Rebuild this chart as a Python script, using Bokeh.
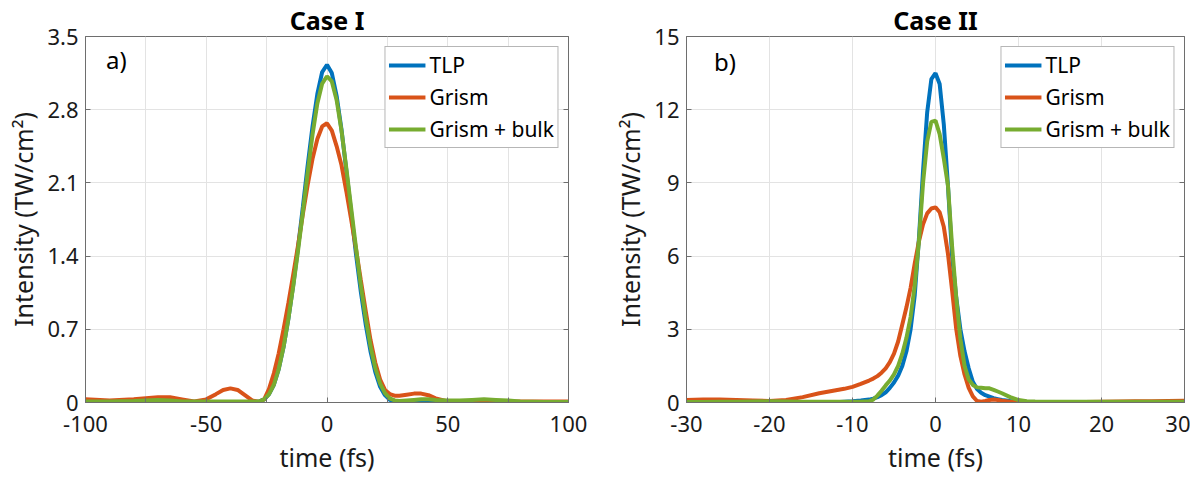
from bokeh.plotting import figure
from bokeh.layouts import row
from bokeh.models import Range1d, FixedTicker, LinearAxis, Label, Legend, LegendItem
from bokeh.embed import file_html
from bokeh.resources import INLINE

# ---------------- data: Case I ----------------
t1 = [-100, -90, -80, -75, -70, -65, -60, -55, -50, -46, -43, -40, -37, -34, -31, -28,
      -26, -24, -22, -20, -18, -16, -14, -12, -10, -8, -6, -4, -2, 0, 2, 4, 6, 8, 10,
      12, 14, 16, 18, 20, 22, 24, 26, 28, 30, 33, 36, 39, 42, 45, 50, 55, 60, 65, 70,
      75, 80, 90, 100]
tlp1 = [0, 0, 0, 0, 0, 0, 0, 0, 0, 0, 0, 0, 0, 0, 0, 0.01,
        0.03, 0.08, 0.17, 0.32, 0.53, 0.80, 1.12, 1.48, 1.87, 2.27, 2.64, 2.95, 3.16, 3.23, 3.15, 2.93, 2.61, 2.22, 1.82,
        1.42, 1.06, 0.75, 0.49, 0.29, 0.15, 0.07, 0.025, 0.01, 0, 0, 0, 0, 0, 0, 0, 0, 0, 0, 0,
        0, 0, 0, 0]
grism1 = [0.03, 0.02, 0.03, 0.04, 0.05, 0.05, 0.03, 0.01, 0.03, 0.08, 0.12, 0.135, 0.12, 0.07, 0.02, 0.005,
          0.03, 0.13, 0.28, 0.47, 0.70, 0.95, 1.22, 1.50, 1.80, 2.08, 2.33, 2.52, 2.64, 2.67, 2.60, 2.45, 2.27, 2.02, 1.75,
          1.47, 1.17, 0.88, 0.60, 0.38, 0.22, 0.12, 0.08, 0.065, 0.065, 0.075, 0.085, 0.085, 0.07, 0.04, 0.01, 0.005, 0.01, 0.01, 0.01,
          0.01, 0.01, 0.01, 0.01]
bulk1 = [0.01, 0.01, 0.015, 0.02, 0.025, 0.02, 0.01, 0.01, 0.01, 0.01, 0.01, 0.01, 0.01, 0.01, 0.01, 0.01,
         0.03, 0.08, 0.17, 0.32, 0.53, 0.80, 1.11, 1.45, 1.82, 2.20, 2.56, 2.86, 3.05, 3.12, 3.07, 2.89, 2.60, 2.24, 1.86,
         1.48, 1.12, 0.81, 0.54, 0.33, 0.18, 0.09, 0.04, 0.02, 0.015, 0.02, 0.025, 0.03, 0.03, 0.025, 0.02, 0.02, 0.025, 0.03, 0.025,
         0.02, 0.01, 0.005, 0.005]

# ---------------- data: Case II ----------------
t2 = [-30, -28, -26, -24, -22, -20, -18, -16, -14, -12, -11, -10, -9, -8, -7.5, -7, -6.5, -6,
      -5.5, -5, -4.5, -4, -3.5, -3, -2.5, -2, -1.5, -1, -0.5, 0, 0.5, 1, 1.5, 2, 2.5, 3,
      3.5, 4, 4.5, 5, 5.5, 6, 6.5, 7, 7.5, 8, 9, 10, 11, 12, 14, 16, 18, 20, 22, 24, 26, 28, 30]
tlp2 = [0, 0, 0, 0, 0, 0, 0, 0, 0, 0.01, 0.03, 0.05, 0.08, 0.12, 0.16, 0.22, 0.30, 0.42,
        0.60, 0.82, 1.10, 1.50, 2.10, 3.00, 4.40, 6.70, 9.50, 11.90, 13.25, 13.50, 13.05, 11.40, 8.90, 6.00, 4.30, 3.00,
        2.10, 1.40, 0.85, 0.55, 0.40, 0.30, 0.24, 0.18, 0.14, 0.10, 0.06, 0.04, 0.02, 0.01, 0, 0, 0, 0, 0, 0, 0, 0, 0]
grism2 = [0.10, 0.12, 0.12, 0.10, 0.08, 0.06, 0.10, 0.22, 0.38, 0.50, 0.56, 0.64, 0.76, 0.90, 0.98, 1.08, 1.22, 1.40,
          1.65, 2.00, 2.50, 3.20, 3.90, 4.70, 5.70, 6.60, 7.30, 7.75, 7.95, 8.00, 7.80, 7.20, 6.10, 4.60, 3.00, 1.90,
          1.15, 0.60, 0.25, 0.06, 0.03, 0.06, 0.10, 0.12, 0.10, 0.07, 0.03, 0.02, 0.02, 0.02, 0.02, 0.02, 0.02, 0.03, 0.04, 0.05, 0.05, 0.06, 0.07]
bulk2 = [0.02, 0.02, 0.03, 0.03, 0.04, 0.05, 0.04, 0.03, 0.03, 0.03, 0.03, 0.03, 0.03, 0.05, 0.12, 0.28, 0.48, 0.70,
         0.90, 1.15, 1.50, 2.00, 2.65, 3.50, 4.80, 6.60, 9.00, 10.70, 11.50, 11.55, 11.00, 10.00, 8.90, 6.40, 4.30, 2.60,
         1.50, 0.95, 0.72, 0.62, 0.60, 0.58, 0.58, 0.52, 0.45, 0.38, 0.22, 0.10, 0.05, 0.04, 0.03, 0.03, 0.03, 0.03, 0.03, 0.03, 0.03, 0.03, 0.03]

names = ["TLP", "Grism", "Grism + bulk"]
colors = ["#0072BD", "#D95319", "#77AC30"]

x1_ticks = [-100, -75, -50, -25, 0, 25, 50, 75, 100]
x1_labels = {-100: "-100", -75: "", -50: "-50", -25: "", 0: "0", 25: "", 50: "50", 75: "", 100: "100"}
y1_ticks = [0, 0.7, 1.4, 2.1, 2.8, 3.5]
y1_labels = {0: "0", 0.7: "0.7", 1.4: "1.4", 2.1: "2.1", 2.8: "2.8", 3.5: "3.5"}
x2_ticks = [-30, -20, -10, 0, 10, 20, 30]
x2_labels = {v: str(v) for v in x2_ticks}
y2_ticks = [0, 3, 6, 9, 12, 15]
y2_labels = {v: str(v) for v in y2_ticks}

FONT = "Noto Sans"
AX_COL = "#6e6e6e"


def style_axis(ax, ticks, labels, show_labels=True):
    ax.ticker = FixedTicker(ticks=ticks)
    ax.major_label_overrides = labels
    ax.minor_tick_line_color = None
    ax.major_tick_in = 5
    ax.major_tick_out = 0
    ax.axis_line_color = AX_COL
    ax.major_tick_line_color = AX_COL
    ax.major_label_text_font = FONT
    ax.major_label_text_font_size = "22px" if show_labels else "0px"
    ax.major_label_text_color = "#1a1a1a"
    ax.axis_label_text_font = FONT
    ax.axis_label_text_font_size = "25px"
    ax.axis_label_text_font_style = "normal"
    ax.axis_label_text_color = "#1a1a1a"


def make(title, tag, t, ys, xr, yr, xt, xl, yt, yl, w, bl, br, tag_xy):
    p = figure(width=w, height=477, x_range=Range1d(*xr), y_range=Range1d(*yr),
               output_backend="svg", toolbar_location=None,
               min_border_left=bl, min_border_right=br, min_border_top=0, min_border_bottom=75)
    p.title.text = title
    p.title.text_font = FONT
    p.title.text_font_size = "25px"
    p.title.text_font_style = "bold"
    p.title.text_line_height = 0.75
    p.title.align = "center"
    p.title.standoff = 0
    p.title.text_color = "#000000"
    p.outline_line_color = AX_COL
    p.outline_line_width = 1
    p.background_fill_color = "white"
    p.border_fill_color = "white"

    style_axis(p.xaxis[0], xt, xl)
    style_axis(p.yaxis[0], yt, yl)
    p.xaxis[0].axis_label = "time (fs)"
    p.xaxis[0].major_label_standoff = 13
    p.xaxis[0].axis_label_standoff = 5
    p.yaxis[0].axis_label = "Intensity (TW/cm²)"
    p.yaxis[0].major_label_standoff = 7
    p.yaxis[0].axis_label_standoff = 4

    right = LinearAxis()
    style_axis(right, yt, {v: "" for v in yt}, show_labels=False)
    right.major_label_standoff = 0
    p.add_layout(right, "right")

    p.xgrid.ticker = FixedTicker(ticks=xt)
    p.ygrid.ticker = FixedTicker(ticks=yt)
    p.grid.grid_line_color = "#e3e3e3"
    p.grid.grid_line_width = 1

    items = []
    for y, n, c in zip(ys, names, colors):
        r = p.line(t, y, line_color=c, line_width=4)
        items.append(LegendItem(label=n, renderers=[r]))
    leg = Legend(items=items, location="top_right")
    leg.margin = 10
    leg.padding = 3
    leg.spacing = 2
    leg.glyph_width = 37
    leg.glyph_height = 30
    leg.label_height = 30
    leg.label_standoff = 4
    leg.label_text_font = FONT
    leg.label_text_font_size = "21px"
    leg.label_text_color = "#000000"
    leg.border_line_color = "#6e6e6e"
    leg.border_line_width = 1
    leg.background_fill_alpha = 1
    p.add_layout(leg, "center")

    p.add_layout(Label(x=tag_xy[0], y=tag_xy[1], text=tag, text_font=FONT,
                       text_font_size="24px", text_baseline="top", text_color="#000000"))
    return p


p1 = make("Case I", "a)", t1, [tlp1, grism1, bulk1], (-100, 100), (0, 3.5),
          x1_ticks, x1_labels, y1_ticks, y1_labels, 590, 85, 22, (-91.5, 3.44))
p2 = make("Case II", "b)", t2, [tlp2, grism2, bulk2], (-30, 30), (0, 15),
          x2_ticks, x2_labels, y2_ticks, y2_labels, 600, 96, 6, (-26.7, 14.65))

layout = row(p1, p2)
open("out.html", "w").write(file_html(layout, INLINE))
